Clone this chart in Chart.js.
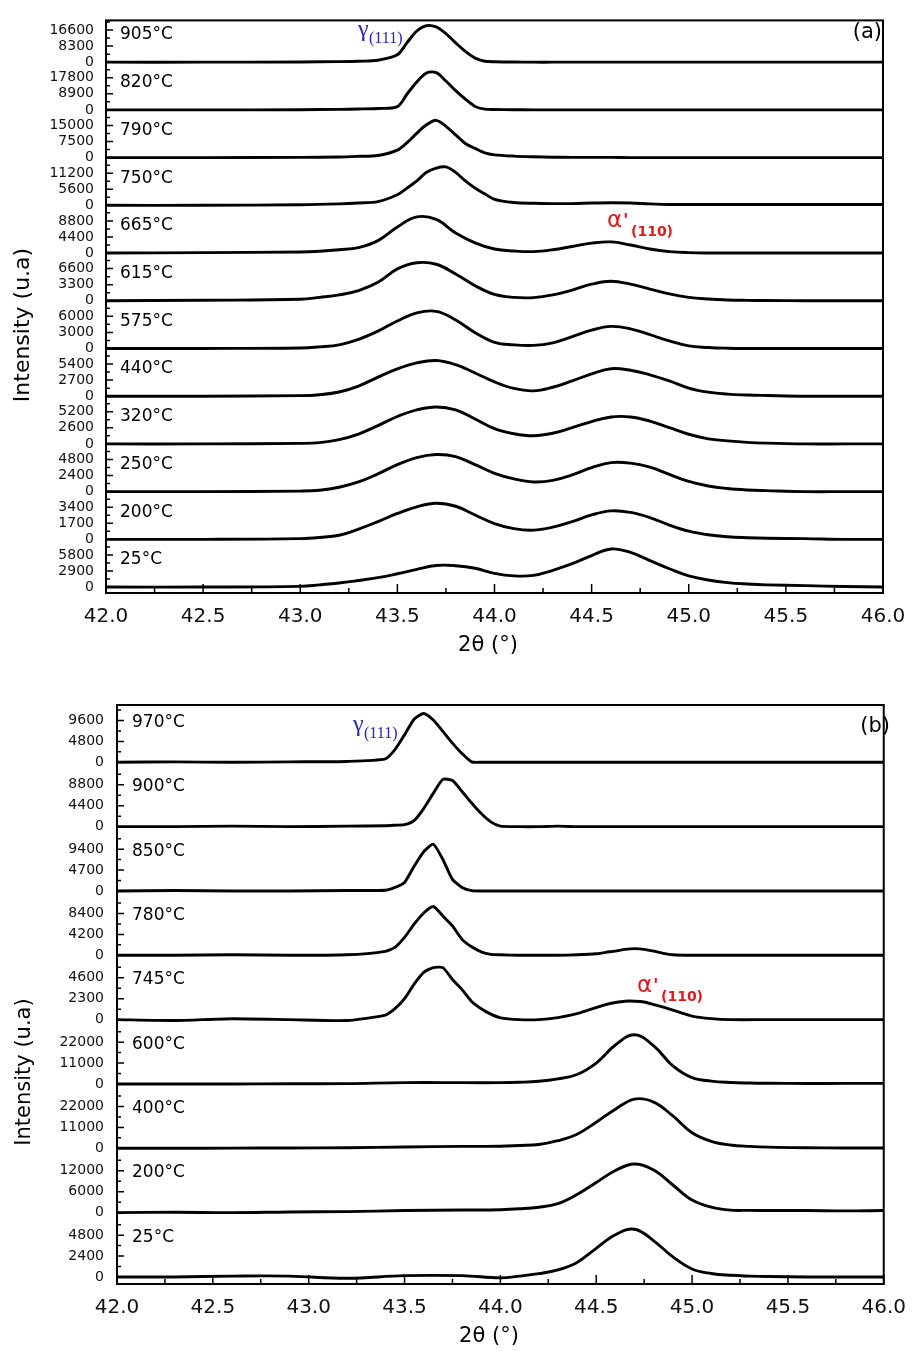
<!DOCTYPE html>
<html>
<head>
<meta charset="utf-8">
<script src="https://cdn.jsdelivr.net/npm/chart.js@4.4.1/dist/chart.umd.min.js"></script>
<style>
  html, body { margin: 0; padding: 0; background: #fff; }
  #wrap { position: relative; width: 918px; height: 1351px; }
  canvas { position: absolute; left: 0; }
</style>
</head>
<body>
<div id="wrap">
  <canvas id="panelA" width="918" height="670" style="top:0"></canvas>
  <canvas id="panelB" width="918" height="681" style="top:670px"></canvas>
</div>
<script>
const FONT = '"DejaVu Sans", "Liberation Sans", sans-serif';
const SERIF = '"Liberation Serif", "DejaVu Serif", serif';

// ---- panel (a) ----
// narrow gamma peaks (high temperatures) are read on a finer 2θ grid
const TWO_THETA_A_FINE = [42.0, 42.5, 43.0, 43.2, 43.3, 43.4, 43.5,
  43.55, 43.6, 43.65, 43.7, 43.75, 43.8, 43.85, 43.9, 43.95, 44.0,
  44.1, 44.2, 44.3, 44.4, 44.5, 44.6, 44.7, 44.8, 44.9, 45.0,
  45.1, 45.2, 45.4, 45.6, 45.8, 46.0];
const TWO_THETA_A = [42.0, 42.5,
  43.0, 43.1, 43.2, 43.3, 43.4, 43.5, 43.6, 43.7, 43.8, 43.9,
  44.0, 44.1, 44.2, 44.3, 44.4, 44.5, 44.6, 44.7, 44.8, 44.9,
  45.0, 45.1, 45.2, 45.3, 45.4,
  45.6, 45.8, 46.0];
const TEMPS_A = ['905°C', '820°C', '790°C', '750°C', '665°C', '615°C', '575°C', '440°C', '320°C', '250°C', '200°C', '25°C'];
const TOP_TICKS_A = [16600, 17800, 15000, 11200, 8800, 6600, 6000, 5400, 5200, 4800, 3400, 5800];

const I_905 = [0, 0, 100, 300, 500, 1000, 3800,
  10100, 16100, 18900, 18200, 14700, 10000, 5600, 2100, 500, 200,
  100, 0, 0, 0, 0, 0, 0, 0, 0, 0,
  0, 0, 0, 0, 0, 0];
const I_820 = [0, 0, 100, 300, 500, 800, 1800,
  8800, 15500, 20400, 20600, 16000, 10700, 6000, 1900, 400, 200,
  100, 0, 0, 0, 0, 0, 0, 0, 0, 0,
  0, 0, 0, 0, 0, 0];
const I_790 = [0, 0, 100, 300, 600, 1000, 3500,
  7000, 11400, 15300, 17400, 14600, 10600, 6600, 4300, 2200, 1300,
  700, 400, 200, 100, 100, 100, 0, 0, 0, 0,
  0, 0, 0, 0, 0, 0];
const I_750 = [0, 0, 200, 500, 800, 1300, 3700,
  6000, 8500, 11500, 13000, 13400, 11500, 8500, 6000, 4000, 2100,
  1000, 700, 600, 600, 800, 900, 800, 500, 300, 300,
  300, 300, 300, 300, 300, 300];

const I_665 = [0, 100,
  300, 500, 900, 1500, 3400, 7150, 9900, 9200, 5500, 2800,
  1100, 560, 400, 900, 1800, 2700, 3050, 2200, 1100, 400,
  100, 0, 0, 0, 0,
  0, 0, 0];
const I_615 = [0, 100,
  300, 700, 1200, 2100, 3800, 6550, 7800, 7500, 5500, 3100,
  1300, 700, 650, 1200, 2200, 3400, 4000, 3400, 2400, 1400,
  700, 350, 150, 80, 50,
  0, 0, 0];
const I_575 = [0, 0,
  100, 300, 670, 1700, 3230, 5130, 6650, 6940, 5320, 2950,
  1140, 670, 570, 1050, 2190, 3420, 4120, 3670, 2570, 1430,
  480, 190, 50, 0, 0,
  0, 0, 0];
const I_440 = [0, 0,
  90, 250, 700, 1700, 3200, 4600, 5600, 5990, 5300, 3900,
  2400, 1300, 900, 1500, 2570, 3760, 4620, 4360, 3590, 2570,
  1370, 680, 340, 200, 120,
  0, 0, 0];
const I_320 = [0, 0,
  80, 200, 700, 1600, 2960, 4440, 5510, 5980, 5510, 4030,
  2470, 1650, 1320, 1730, 2630, 3620, 4360, 4360, 3700, 2630,
  1560, 820, 490, 250, 120,
  0, 0, 0];
const I_250 = [0, 0,
  80, 200, 650, 1440, 2660, 4030, 5090, 5540, 5240, 4030,
  2730, 1900, 1440, 1670, 2510, 3570, 4330, 4250, 3650, 2580,
  1520, 840, 460, 250, 150,
  0, 0, 0];
const I_200 = [0, 0,
  80, 200, 430, 1080, 1880, 2740, 3440, 3820, 3500, 2580,
  1670, 1130, 970, 1290, 1880, 2580, 3010, 2850, 2310, 1510,
  860, 480, 270, 170, 110,
  75, 0, 0];
const I_25 = [0, 0,
  130, 400, 730, 1190, 1700, 2400, 3200, 3900, 3850, 3400,
  2480, 2020, 2110, 3030, 4220, 5690, 6880, 6240, 4770, 3300,
  2020, 1280, 800, 550, 400,
  250, 100, 0];

// ---- panel (b) ----
const TWO_THETA_B_FINE = [42.0, 42.3, 42.6, 42.9, 43.2,
  43.4, 43.45, 43.5, 43.55, 43.6, 43.65, 43.7, 43.75, 43.8, 43.85, 43.9, 43.95, 44.0,
  44.1, 44.2, 44.3, 44.4,
  44.5, 44.55, 44.6, 44.65, 44.7, 44.75, 44.8, 44.85, 44.9, 45.0,
  45.1, 45.2, 45.4, 45.6, 45.8, 46.0];
const TWO_THETA_B = [42.0, 42.3, 42.6, 42.9, 43.2, 43.5, 43.8,
  44.0, 44.1, 44.2, 44.3, 44.4, 44.5, 44.6, 44.7, 44.8, 44.9,
  45.0, 45.1, 45.2, 45.3, 45.4,
  45.6, 45.8, 46.0];
const TEMPS_B = ['970°C', '900°C', '850°C', '780°C', '745°C', '600°C', '400°C', '200°C', '25°C'];
const TOP_TICKS_B = [9600, 8800, 9400, 8400, 4600, 22000, 22000, 12000, 4800];

const J_970 = [0, 100, 0, 100, 200,
  800, 2900, 6300, 9900, 11200, 9700, 7100, 4400, 2000, 100, 0, 0, 0,
  0, 0, 0, 0,
  0, 0, 0, 0, 0, 0, 0, 0, 0, 0,
  0, 0, 0, 0, 0, 0];
const J_900 = [0, 0, 100, 0, 100,
  200, 300, 420, 1270, 3800, 7000, 9940, 9700, 7400, 4970, 2750, 1000, 100,
  0, 0, 100, 0,
  0, 0, 0, 0, 0, 0, 0, 0, 0, 0,
  0, 0, 0, 0, 0, 0];
const J_850 = [0, 100, 0, 0, 100,
  160, 800, 1920, 5540, 8800, 10500, 7080, 2600, 800, 70, 0, 0, 0,
  0, 0, 0, 0,
  0, 0, 0, 0, 0, 0, 0, 0, 0, 0,
  0, 0, 0, 0, 0, 0];
const J_780 = [0, 0, 100, 0, 100,
  800, 1600, 3600, 6250, 8500, 9800, 7900, 5900, 3200, 1700, 700, 200, 100,
  0, 0, 0, 100,
  300, 600, 850, 1200, 1350, 1200, 850, 400, 100, 0,
  0, 0, 0, 0, 0, 0];
const J_745 = [0, -100, 100, 0, -100,
  500, 1200, 2300, 3900, 5200, 5720, 5720, 4420, 3300, 2000, 1200, 600, 200,
  0, 0, 220, 660,
  1330, 1660, 1880, 2030, 2030, 1940, 1660, 1380, 1050, 390,
  110, 0, 0, 0, 0, 0];

const J_600 = [0, 0, 0, 100, 200, 700, 700,
  700, 900, 1400, 2700, 5000, 11000, 20500, 25900, 20000, 9500,
  3300, 1500, 790, 500, 370,
  260, 300, 300];
const J_400 = [0, 0, 100, 200, 300, 700, 1000,
  1100, 1500, 2000, 4000, 7400, 13700, 20600, 25900, 24300, 17000,
  8200, 3700, 1750, 1000, 600,
  300, 200, 200];
const J_200 = [0, 100, 0, 200, 300, 600, 750,
  850, 1100, 1550, 2600, 5200, 8650, 12100, 13940, 12260, 7930,
  3600, 1590, 720, 650, 600,
  600, 500, 600];
const J_25 = [0, 0, 100, 100, -150, 150, 150,
  -100, 100, 380, 810, 1670, 3290, 4850, 5480, 4150, 2310,
  920, 400, 190, 100, 50,
  0, 0, 0];

// each strip: [values, grid]
const SERIES_A = [
  [I_905, TWO_THETA_A_FINE], [I_820, TWO_THETA_A_FINE], [I_790, TWO_THETA_A_FINE], [I_750, TWO_THETA_A_FINE],
  [I_665, TWO_THETA_A], [I_615, TWO_THETA_A], [I_575, TWO_THETA_A], [I_440, TWO_THETA_A],
  [I_320, TWO_THETA_A], [I_250, TWO_THETA_A], [I_200, TWO_THETA_A], [I_25, TWO_THETA_A]
];
const SERIES_B = [
  [J_970, TWO_THETA_B_FINE], [J_900, TWO_THETA_B_FINE], [J_850, TWO_THETA_B_FINE], [J_780, TWO_THETA_B_FINE],
  [J_745, TWO_THETA_B_FINE], [J_600, TWO_THETA_B], [J_400, TWO_THETA_B], [J_200, TWO_THETA_B], [J_25, TWO_THETA_B]
];

// frame, inward ticks and all the text labels
const xrdDecor = {
  id: 'xrdDecor',
  afterDatasetsDraw(chart, args, o) {
    const { ctx, chartArea: a } = chart;
    const xs = chart.scales.x;
    ctx.save();
    ctx.strokeStyle = '#000';
    ctx.lineWidth = 1.5;
    ctx.beginPath();
    o.tops.forEach((top, i) => {
      const ys = chart.scales['s' + i];
      [0, 0.25, 0.5, 0.75, 1, 1.25].forEach((f, k) => {
        const y = ys.getPixelForValue(top * f);
        if (y < ys.top + 1 || y > ys.bottom) return;
        const len = k % 2 === 0 ? 7 : 4;
        ctx.moveTo(a.left, y);
        ctx.lineTo(a.left + len, y);
      });
    });
    xs.ticks.forEach((t, k) => {
      const x = xs.getPixelForValue(t.value);
      ctx.moveTo(x, a.bottom);
      ctx.lineTo(x, a.bottom - 9);
      if (k < xs.ticks.length - 1) {
        const xm = xs.getPixelForValue((t.value + xs.ticks[k + 1].value) / 2);
        ctx.moveTo(xm, a.bottom);
        ctx.lineTo(xm, a.bottom - 5);
      }
    });
    ctx.stroke();
    ctx.lineWidth = 2;
    ctx.strokeRect(a.left, a.top, a.right - a.left, a.bottom - a.top);

    // temperature of each strip
    ctx.fillStyle = '#000';
    ctx.font = '17px ' + FONT;
    ctx.textAlign = 'left';
    ctx.textBaseline = 'middle';
    o.temps.forEach((t, i) => {
      const ys = chart.scales['s' + i];
      ctx.fillText(t, a.left + o.tempDx, ys.getPixelForValue(o.tops[i]) + o.tempDy);
    });

    // panel tag
    ctx.font = '21px ' + FONT;
    ctx.textAlign = 'right';
    ctx.fillText(o.tag, o.tagX, o.tagY);

    // axis titles
    ctx.textAlign = 'center';
    ctx.font = '21px ' + FONT;
    ctx.fillText('2θ (°)', o.xTitleX, o.xTitleY);
    ctx.save();
    ctx.translate(o.yTitleX, o.yTitleY);
    ctx.rotate(-Math.PI / 2);
    ctx.font = o.yTitleSize + 'px ' + FONT;
    ctx.fillText('Intensity (u.a)', 0, 0);
    ctx.restore();

    // peak labels
    ctx.textAlign = 'left';
    ctx.textBaseline = 'alphabetic';
    ctx.fillStyle = '#2626b4';
    ctx.font = '24px ' + SERIF;
    ctx.fillText('γ', o.gamma[0], o.gamma[1]);
    ctx.font = '16px ' + SERIF;
    ctx.fillText('(111)', o.gamma[0] + 11, o.gamma[1] + 7);

    ctx.fillStyle = '#e0191c';
    ctx.font = '23px ' + FONT;
    ctx.fillText('α', o.alpha[0], o.alpha[1]);
    ctx.font = 'bold 18px ' + FONT;
    ctx.fillText("'", o.alpha[0] + 16, o.alpha[1] - 1);
    ctx.font = 'bold 14px ' + FONT;
    ctx.fillText('(110)', o.alpha[0] + 24, o.alpha[1] + 9);
    ctx.restore();
  }
};

function buildPanel(canvasId, temps, tops, series, cfg) {
  const n = temps.length;
  const scales = {
    x: {
      type: 'linear', min: 42, max: 46,
      grid: { display: false, drawTicks: false },
      border: { display: false },
      ticks: {
        stepSize: 0.5, autoSkip: false, maxRotation: 0,
        padding: cfg.xPad, color: '#111',
        font: { family: FONT, size: 20 },
        callback: v => Number(v).toFixed(1)
      },
      afterFit: s => { s.height = cfg.xHeight; }
    }
  };
  // bottom strip first: the stacked layout puts the last scale on top
  for (let i = n - 1; i >= 0; i--) {
    const top = tops[i];
    scales['s' + i] = {
      type: 'linear', position: 'left', stack: 'strips', stackWeight: 1, weight: n - i,
      bounds: 'data',
      min: -cfg.below * top, max: cfg.above * top,
      grid: { display: false, drawTicks: false },
      border: { display: false },
      ticks: {
        autoSkip: false, padding: cfg.yPad, color: '#111',
        font: { family: FONT, size: 14 },
        callback: v => String(v)
      },
      afterBuildTicks: s => { s.ticks = [0, top / 2, top].map(v => ({ value: v })); },
      afterFit: s => { s.width = cfg.left; }
    };
  }
  const datasets = series.map(([vals, grid], i) => ({
    label: temps[i],
    data: grid.map((t, k) => ({ x: t, y: vals[k] })),
    yAxisID: 's' + i,
    borderColor: '#000',
    borderWidth: 2.9,
    pointRadius: 0,
    fill: false,
    tension: grid.length > 32 ? cfg.tensionFine : 0.4,
    clip: false
  }));
  return new Chart(document.getElementById(canvasId), {
    type: 'line',
    data: { datasets },
    options: {
      responsive: false,
      animation: false,
      devicePixelRatio: 1,
      events: [],
      layout: { padding: { top: cfg.padTop, right: cfg.padRight, left: 0, bottom: 0 } },
      scales,
      plugins: {
        legend: { display: false },
        tooltip: { enabled: false },
        xrdDecor: cfg.decor
      }
    },
    plugins: [xrdDecor]
  });
}

buildPanel('panelA', TEMPS_A, TOP_TICKS_A, SERIES_A, {
  left: 106, padTop: 14, padRight: 35, xHeight: 77, xPad: 12, yPad: 12,
  above: 1.3, below: 0.185, tensionFine: 0.3,
  decor: {
    tops: TOP_TICKS_A, temps: TEMPS_A, tempDx: 14, tempDy: 5,
    tag: '(a)', tagX: 882, tagY: 33,
    xTitleX: 488, xTitleY: 646, yTitleX: 23, yTitleY: 325, yTitleSize: 22,
    gamma: [358, 36], alpha: [607, 227]
  }
});

buildPanel('panelB', TEMPS_B, TOP_TICKS_B, SERIES_B, {
  left: 117, padTop: 35, padRight: 25, xHeight: 67, xPad: 12, yPad: 13,
  above: 1.37, below: 0.168, tensionFine: 0.2,
  decor: {
    tops: TOP_TICKS_B, temps: TEMPS_B, tempDx: 15, tempDy: 2,
    tag: '(b)', tagX: 890, tagY: 57,
    xTitleX: 489, xTitleY: 667, yTitleX: 25, yTitleY: 402, yTitleSize: 21,
    gamma: [353, 61], alpha: [637, 322]
  }
});
</script>
</body>
</html>
